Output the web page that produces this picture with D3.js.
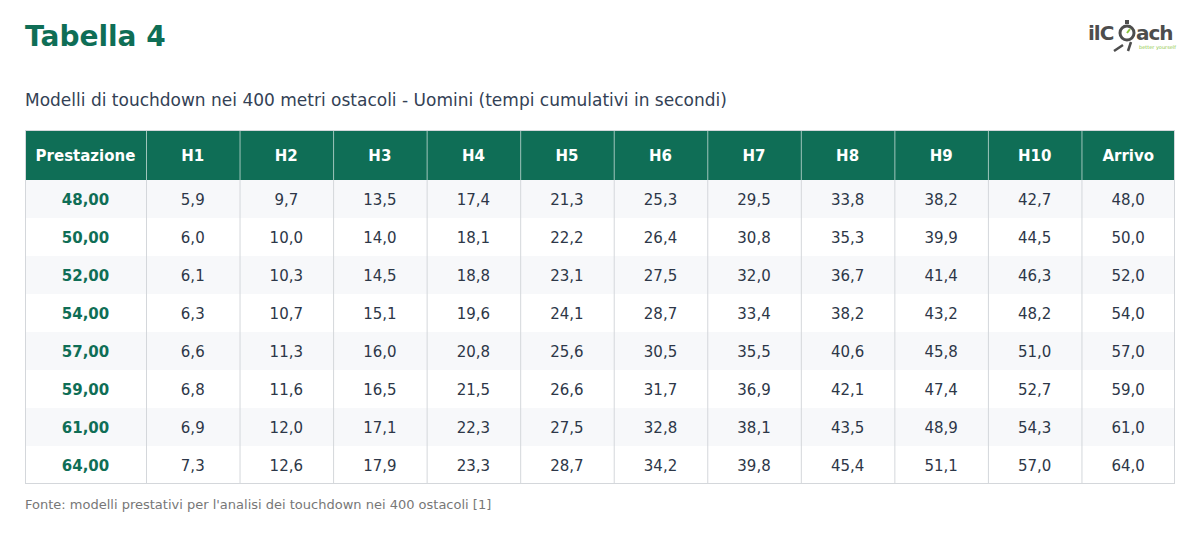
<!DOCTYPE html>
<html><head><meta charset="utf-8">
<script src="https://cdn.jsdelivr.net/npm/d3@7"></script>
<style>
body{margin:0;background:#fff;}
svg{display:block;font-family:"DejaVu Sans",sans-serif;}
</style></head><body>
<svg id="c" width="1200" height="554"></svg>
<script>
const title = "Tabella 4";
const subtitle = "Modelli di touchdown nei 400 metri ostacoli - Uomini (tempi cumulativi in secondi)";
const source = "Fonte: modelli prestativi per l'analisi dei touchdown nei 400 ostacoli [1]";
const headers = ["Prestazione","H1","H2","H3","H4","H5","H6","H7","H8","H9","H10","Arrivo"];
const prestazioni = ["48,00","50,00","52,00","54,00","57,00","59,00","61,00","64,00"];
const row48 = ["5,9","9,7","13,5","17,4","21,3","25,3","29,5","33,8","38,2","42,7","48,0"];
const row50 = ["6,0","10,0","14,0","18,1","22,2","26,4","30,8","35,3","39,9","44,5","50,0"];
const row52 = ["6,1","10,3","14,5","18,8","23,1","27,5","32,0","36,7","41,4","46,3","52,0"];
const row54 = ["6,3","10,7","15,1","19,6","24,1","28,7","33,4","38,2","43,2","48,2","54,0"];
const row57 = ["6,6","11,3","16,0","20,8","25,6","30,5","35,5","40,6","45,8","51,0","57,0"];
const row59 = ["6,8","11,6","16,5","21,5","26,6","31,7","36,9","42,1","47,4","52,7","59,0"];
const row61 = ["6,9","12,0","17,1","22,3","27,5","32,8","38,1","43,5","48,9","54,3","61,0"];
const row64 = ["7,3","12,6","17,9","23,3","28,7","34,2","39,8","45,4","51,1","57,0","64,0"];
const rows = [row48,row50,row52,row54,row57,row59,row61,row64];

(function(){
const green = "#0f6e56", textC = "#2d3748", border = "#d4d7db";
const svg = d3.select("#c");

svg.append("text").attr("x",25).attr("y",46).attr("fill",green)
  .attr("font-size",28).attr("font-weight","bold").text(title);
svg.append("text").attr("x",25).attr("y",106).attr("fill","#334155")
  .attr("font-size",17).text(subtitle);

// logo
const lg = svg.append("g");
lg.append("text").attr("x",1088).attr("y",40).attr("fill","#4d4d4d").attr("font-size",20)
  .attr("font-weight","bold").attr("letter-spacing",-1).text("ilC");
lg.append("circle").attr("cx",1127).attr("cy",33).attr("r",7).attr("fill","none").attr("stroke","#4d4d4d").attr("stroke-width",3);
lg.append("line").attr("x1",1127).attr("y1",33).attr("x2",1130).attr("y2",29).attr("stroke","#8cc63f").attr("stroke-width",2);
lg.append("rect").attr("x",1125).attr("y",20).attr("width",4).attr("height",4).attr("fill","#4d4d4d");
lg.append("path").attr("d","M1114,51 L1123,45 M1128,51 L1131,42").attr("stroke","#4d4d4d").attr("stroke-width",2.5).attr("fill","none");
lg.append("text").attr("x",1136).attr("y",40).attr("fill","#4d4d4d").attr("font-size",20)
  .attr("font-weight","bold").attr("letter-spacing",-1).text("ach");
lg.append("text").attr("x",1139).attr("y",49).attr("fill","#8cc63f").attr("font-size",5).text("better yourself");

// table
const tLeft = 25, firstW = 121, tRight = 1175, tTop = 130, headH = 50, rowH = 38;
const x = d3.scaleBand().domain(headers.slice(1)).range([tLeft+firstW, tRight]);
const colX = h => h === headers[0] ? tLeft : x(h);
const colW = h => h === headers[0] ? firstW : x.bandwidth();
const y = d3.scaleBand().domain(prestazioni).range([tTop+headH, tTop+headH+rowH*rows.length]);
const tBottom = tTop+headH+rowH*rows.length;

svg.selectAll(".rbg").data(prestazioni).join("rect")
  .attr("x",tLeft).attr("y",d=>y(d)).attr("width",tRight-tLeft).attr("height",y.bandwidth())
  .attr("fill",(d,i)=> i%2===0 ? "#f7f8fa" : "#ffffff");

svg.append("rect").attr("x",tLeft).attr("y",tTop).attr("width",tRight-tLeft).attr("height",headH).attr("fill",green);

svg.selectAll(".vl").data(headers.slice(1)).join("line")
  .attr("x1",d=>x(d)+0.5).attr("x2",d=>x(d)+0.5).attr("y1",tTop+headH).attr("y2",tBottom)
  .attr("stroke",border);
svg.selectAll(".vlh").data(headers.slice(1)).join("line")
  .attr("x1",d=>x(d)+0.5).attr("x2",d=>x(d)+0.5).attr("y1",tTop).attr("y2",tTop+headH)
  .attr("stroke","#ffffff").attr("stroke-opacity",0.6);
svg.append("rect").attr("x",tLeft+0.5).attr("y",tTop+0.5).attr("width",tRight-tLeft-1).attr("height",tBottom-tTop-1)
  .attr("fill","none").attr("stroke",border);

svg.selectAll(".ht").data(headers).join("text")
  .attr("x",d=>colX(d)+colW(d)/2).attr("y",tTop+headH/2+6).attr("text-anchor","middle")
  .attr("fill","#fff").attr("font-size",15).attr("font-weight","bold").text(d=>d);

svg.selectAll(".pt").data(prestazioni).join("text")
  .attr("x",tLeft+firstW/2).attr("y",d=>y(d)+y.bandwidth()/2+6).attr("text-anchor","middle")
  .attr("fill",green).attr("font-size",15).attr("font-weight","bold").text(d=>d);

rows.forEach((r,i)=>{
  svg.selectAll(".c"+i).data(r).join("text")
    .attr("x",(d,j)=>x(headers[j+1])+x.bandwidth()/2)
    .attr("y",y(prestazioni[i])+y.bandwidth()/2+6)
    .attr("text-anchor","middle").attr("fill",textC).attr("font-size",15).text(d=>d);
});

svg.append("text").attr("x",25).attr("y",509).attr("fill","#777").attr("font-size",13).text(source);
})();
</script></body></html>
